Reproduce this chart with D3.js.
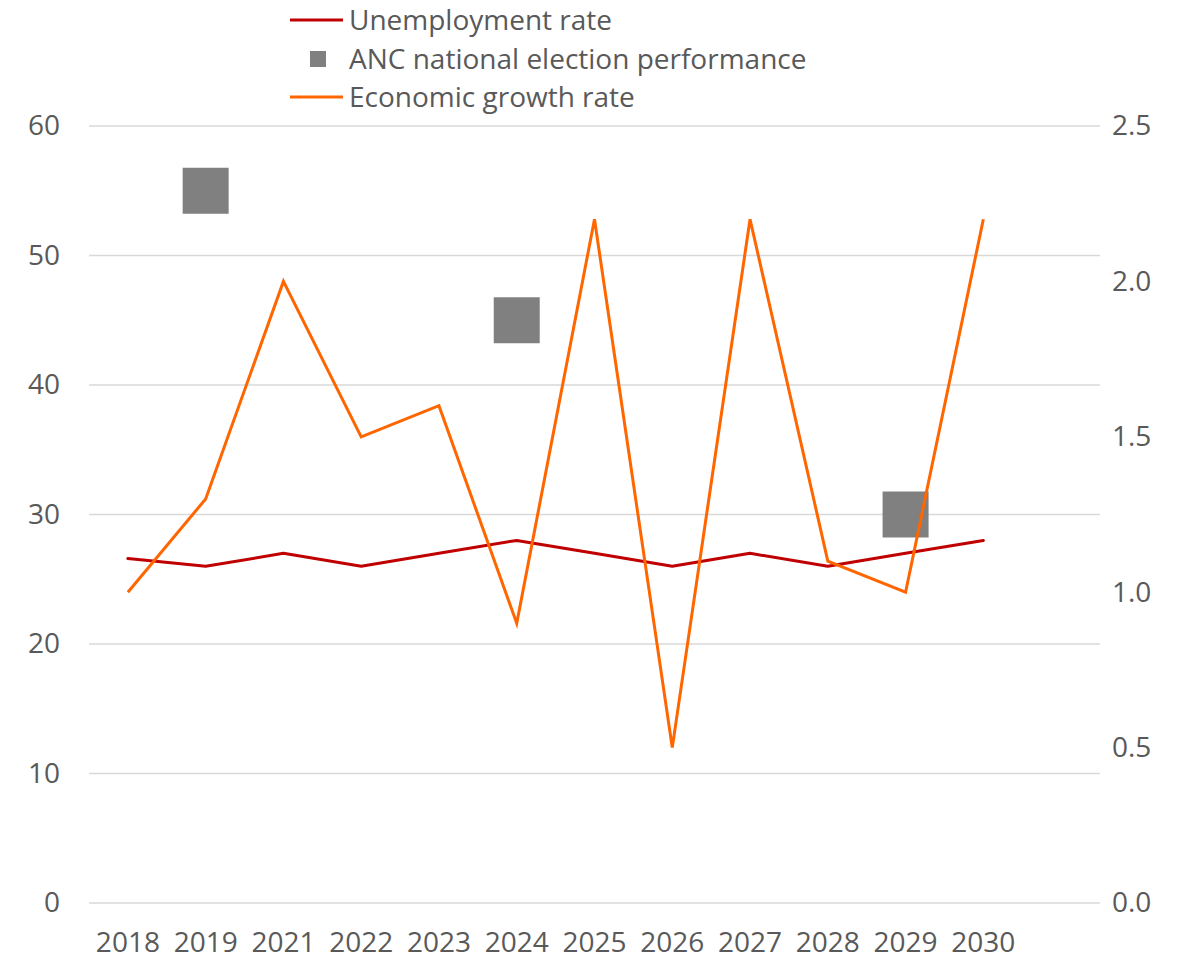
<!DOCTYPE html>
<html>
<head>
<meta charset="utf-8">
<script src="https://cdn.jsdelivr.net/npm/d3@7"></script>
<style>
  html, body { margin: 0; padding: 0; background: #fff; }
  .chart text { font-family: "Open Sans", Lato, sans-serif; fill: #595959; }
</style>
</head>
<body>
<div class="chart"></div>
<script>
// data
const years = ['2018', '2019', '2021', '2022', '2023', '2024', '2025', '2026', '2027', '2028', '2029', '2030'];
const unemployment = [26.6, 26, 27, 26, 27, 28, 27, 26, 27, 26, 27, 28];
const ancVotes = [null, 55, null, null, null, 45, null, null, null, null, 30, null];
const growth = [1.0, 1.3, 2.0, 1.5, 1.6, 0.9, 2.2, 0.5, 2.2, 1.1, 1.0, 2.2];
const leftTicks = [0, 10, 20, 30, 40, 50, 60];
const rightTicks = [0, 0.5, 1.0, 1.5, 2.0, 2.5];
const legendNames = ['Unemployment rate', 'ANC national election performance', 'Economic growth rate'];

const width = 1193, height = 959;
const margin = {top: 126, right: 93, bottom: 56, left: 89};
const plotW = width - margin.left - margin.right;
const plotH = height - margin.top - margin.bottom;

const svg = d3.select('.chart')
  .append('svg')
    .attr('width', width)
    .attr('height', height);

const graph = svg.append('g')
  .attr('transform', `translate(${margin.left}, ${margin.top})`);

// the category axis leaves one empty slot on the right, like the original
const x = d3.scaleBand()
  .domain(years)
  .range([0, plotW * 12 / 13]);

const yLeft = d3.scaleLinear().domain([0, 60]).range([plotH, 0]);
const yRight = d3.scaleLinear().domain([0, 2.5]).range([plotH, 0]);

// gridlines
graph.append('g')
  .selectAll('line')
  .data(leftTicks)
  .enter().append('line')
    .attr('x1', 0)
    .attr('x2', plotW)
    .attr('y1', d => yLeft(d))
    .attr('y2', d => yLeft(d))
    .attr('stroke', '#d9d9d9')
    .attr('stroke-width', 1.5);

// axes
const yAxisLeft = d3.axisLeft(yLeft).tickValues(leftTicks).tickSize(0).tickPadding(29);
const yAxisRight = d3.axisRight(yRight).tickValues(rightTicks).tickSize(0).tickPadding(12)
  .tickFormat(d3.format('.1f'));
const xAxis = d3.axisBottom(x).tickSize(0).tickPadding(29);

const gl = graph.append('g').call(yAxisLeft);
const gr = graph.append('g').attr('transform', `translate(${plotW}, 0)`).call(yAxisRight);
const gx = graph.append('g').attr('transform', `translate(0, ${plotH})`).call(xAxis);

[gl, gr, gx].forEach(g => {
  g.select('.domain').remove();
  g.selectAll('text').attr('font-size', 28).attr('fill', '#595959');
});

const cx = (d, i) => x(years[i]) + x.bandwidth() / 2;

// unemployment line
graph.append('path')
  .datum(unemployment)
  .attr('fill', 'none')
  .attr('stroke', '#c00000')
  .attr('stroke-width', 3)
  .attr('stroke-linejoin', 'round')
  .attr('stroke-linecap', 'round')
  .attr('d', d3.line().x(cx).y(d => yLeft(d)));

// ANC markers
const sq = 46;
graph.append('g')
  .selectAll('rect')
  .data(ancVotes.map((v, i) => ({v, i})).filter(d => d.v !== null))
  .enter().append('rect')
    .attr('x', d => cx(null, d.i) - sq / 2)
    .attr('y', d => yLeft(d.v) - sq / 2)
    .attr('width', sq)
    .attr('height', sq)
    .attr('fill', '#808080');

// economic growth line
graph.append('path')
  .datum(growth)
  .attr('fill', 'none')
  .attr('stroke', '#ff6600')
  .attr('stroke-width', 3)
  .attr('stroke-linejoin', 'miter')
  .attr('d', d3.line().x(cx).y(d => yRight(d)));

// legend
const legend = svg.append('g').attr('transform', 'translate(290, 0)');
const rowY = [20, 59, 97];
const legendColors = ['#c00000', '#808080', '#ff6600'];

legendNames.forEach((name, i) => {
  const row = legend.append('g').attr('transform', `translate(0, ${rowY[i]})`);
  if (i === 1) {
    row.append('rect')
      .attr('x', 20).attr('y', -8)
      .attr('width', 16).attr('height', 16)
      .attr('fill', legendColors[i]);
  } else {
    row.append('line')
      .attr('x1', 0).attr('x2', 53)
      .attr('stroke', legendColors[i])
      .attr('stroke-width', 3);
  }
  row.append('text')
    .attr('x', 59)
    .attr('dy', '0.35em')
    .attr('font-size', 28)
    .text(name);
});
</script>
</body>
</html>
